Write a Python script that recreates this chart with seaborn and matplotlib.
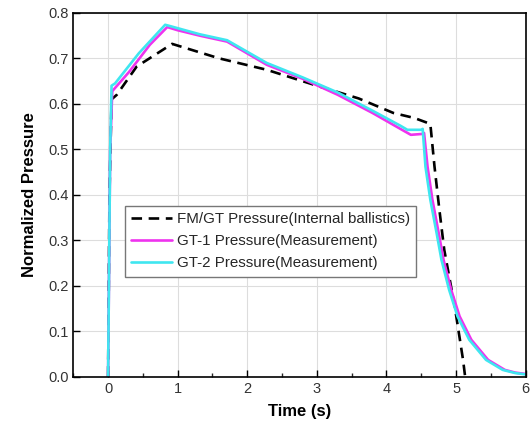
import numpy as np, pandas as pd
import seaborn as sns, matplotlib.pyplot as plt
from matplotlib.ticker import MultipleLocator

# ────────── data ──────────
t_fm = [0.0, 0.02, 0.05, 0.125, 0.41, 0.92, 1.6, 2.28, 3.0, 3.6, 4.1, 4.40, 4.63,
        4.69, 4.76, 4.83, 4.98, 5.10, 5.13]
p_fm = [0.0, 0.40, 0.610, 0.620, 0.682, 0.732, 0.70, 0.675, 0.64, 0.612, 0.58, 0.569, 0.556,
        0.462, 0.367, 0.279, 0.155, 0.037, 0.0]

t_gt1 = [0.0, 0.03, 0.06, 0.3, 0.6, 0.85, 1.0, 1.32, 1.71, 2.28, 2.8, 3.3, 3.8, 4.2, 4.35, 4.52, 4.54,
         4.59, 4.66, 4.75, 4.82, 4.93, 5.05, 5.22, 5.46, 5.70, 5.85, 6.0]
p_gt1 = [0.0, 0.5, 0.628, 0.67, 0.73, 0.769, 0.762, 0.750, 0.737, 0.686, 0.655, 0.62, 0.58, 0.545, 0.532, 0.534,
         0.536, 0.462, 0.389, 0.316, 0.257, 0.191, 0.133, 0.081, 0.037, 0.015, 0.009, 0.006]

t_gt2 = [0.0, 0.03, 0.05, 0.10, 0.44, 0.82, 0.87, 1.32, 1.71, 2.28, 2.8, 3.3, 3.8, 4.2, 4.30, 4.50, 4.52,
         4.56, 4.63, 4.72, 4.79, 4.90, 5.02, 5.19, 5.43, 5.67, 5.85, 6.0]
p_gt2 = [0.0, 0.5, 0.640, 0.645, 0.711, 0.774, 0.772, 0.753, 0.740, 0.690, 0.658, 0.625, 0.585, 0.552, 0.543, 0.543,
         0.545, 0.462, 0.389, 0.316, 0.257, 0.191, 0.133, 0.081, 0.037, 0.015, 0.008, 0.005]

labels = ["FM/GT Pressure(Internal ballistics)",
          "GT-1 Pressure(Measurement)",
          "GT-2 Pressure(Measurement)"]

# ────────── plot ──────────
sns.set_theme(style="whitegrid")
plt.rcParams['font.family'] = ['Liberation Sans', 'DejaVu Sans']

fig, ax = plt.subplots(figsize=(5.31, 4.32), dpi=100)
fig.subplots_adjust(left=0.138, right=0.99, top=0.97, bottom=0.128)

sns.lineplot(x=t_fm, y=p_fm, ax=ax, color='black', lw=1.9, label=labels[0],
             linestyle=(0, (4, 2.5)), sort=False)
sns.lineplot(x=t_gt1, y=p_gt1, ax=ax, color='#ee33ee', lw=1.9, label=labels[1], sort=False)
sns.lineplot(x=t_gt2, y=p_gt2, ax=ax, color='#3fe6f0', lw=1.9, label=labels[2], sort=False)

ax.set_xlim(-0.5, 6)
ax.set_ylim(0, 0.8)
ax.xaxis.set_major_locator(MultipleLocator(1))
ax.xaxis.set_minor_locator(MultipleLocator(0.5))
ax.yaxis.set_major_locator(MultipleLocator(0.1))
ax.yaxis.set_major_formatter(plt.FormatStrFormatter('%.1f'))

ax.grid(True, which='major', color='#dddddd', lw=0.8)
ax.set_facecolor('white')
for s in ax.spines.values():
    s.set_color('black'); s.set_linewidth(1.2)
ax.tick_params(axis='both', which='major', direction='in', length=5, width=1,
               colors='black', labelsize=10.5, left=True, bottom=True)
ax.tick_params(axis='x', which='minor', direction='in', length=3, width=1, bottom=True)
for lab in ax.get_xticklabels() + ax.get_yticklabels():
    lab.set_color('#333333')

ax.set_xlabel("Time (s)", fontsize=12, fontweight='bold', color='black', labelpad=6)
ax.set_ylabel("Normalized Pressure", fontsize=12, fontweight='bold', color='black', labelpad=8)

leg = ax.legend(loc='upper left', bbox_to_anchor=(0.115, 0.47), fontsize=10.9,
                frameon=True, fancybox=False, handlelength=2.7, borderpad=0.4,
                labelspacing=0.55, handletextpad=0.3, borderaxespad=0)
leg.get_frame().set_edgecolor('#777777')
leg.get_frame().set_linewidth(1.0)
leg.get_frame().set_alpha(1)

plt.savefig("out.png", dpi=100)
plt.close()
